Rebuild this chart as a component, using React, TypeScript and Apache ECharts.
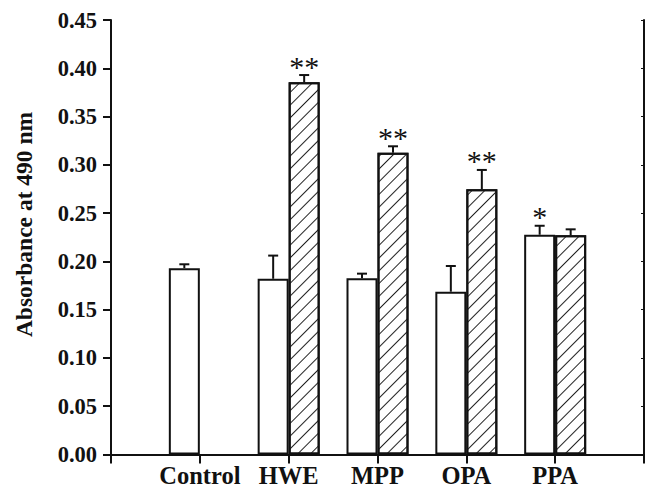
import React, { useEffect, useRef } from "react";
import * as echarts from "echarts";

const categories = ["", "Control", "HWE", "MPP", "OPA", "PPA", ""];
const whiteValues = [null, 0.193, 0.182, 0.1825, 0.1686, 0.2276, null];
const whiteErrors = [null, 0.004, 0.024, 0.0048, 0.0266, 0.0093, null];
const whiteStars = ["", "", "", "", "", "*", ""];
const hatchValues = [null, null, 0.3855, 0.3126, 0.2747, 0.227, null];
const hatchErrors = [null, null, 0.0075, 0.0066, 0.02, 0.0062, null];
const hatchStars = ["", "", "**", "**", "**", "", ""];
const yTicks = { min: 0, max: 0.45, interval: 0.05 };

const FONT = "'Liberation Serif', 'Times New Roman', serif";
const BAR_W = 31;

export default function App() {
  const ref = useRef<HTMLDivElement>(null);
  useEffect(() => {
    if (!ref.current) return;
    const chart = echarts.init(ref.current, null, { renderer: "svg" });

    const errData: any[] = [];
    whiteValues.forEach((v, i) => {
      if (v != null) errData.push([i, 0, v, whiteErrors[i], whiteStars[i]]);
    });
    hatchValues.forEach((v, i) => {
      if (v != null) errData.push([i, 1, v, hatchErrors[i], hatchStars[i]]);
    });

    const option: any = {
      animation: false,
      backgroundColor: "#fff",
      grid: { left: 111, top: 20, right: 5, bottom: 34.5, containLabel: false },
      xAxis: [
        {
          type: "category",
          data: categories,
          boundaryGap: false,
          axisLine: { lineStyle: { color: "#111", width: 2 } },
          axisTick: { show: true, interval: 0, length: 9, lineStyle: { color: "#111", width: 2 } },
          axisLabel: {
            interval: 0,
            margin: 8,
            color: "#111",
            fontFamily: FONT,
            fontWeight: "bold",
            fontSize: 24.5,
          },
          splitLine: { show: false },
        },
        {
          type: "category",
          data: categories,
          position: "top",
          boundaryGap: false,
          axisLine: { lineStyle: { color: "#111", width: 2 } },
          axisTick: { show: true, inside: true, interval: 0, length: 3, lineStyle: { color: "#111", width: 1 } },
          axisLabel: { show: false },
          splitLine: { show: false },
        },
      ],
      yAxis: [
        {
          type: "value",
          min: yTicks.min,
          max: yTicks.max,
          interval: yTicks.interval,
          axisLine: { show: true, lineStyle: { color: "#111", width: 2 } },
          axisTick: { show: true, length: 8, lineStyle: { color: "#111", width: 2 } },
          axisLabel: {
            margin: 14,
            color: "#111",
            fontFamily: FONT,
            fontWeight: "bold",
            fontSize: 22.5,
            formatter: (v: number) => v.toFixed(2),
          },
          splitLine: { show: false },
        },
        {
          type: "value",
          position: "right",
          min: yTicks.min,
          max: yTicks.max,
          interval: yTicks.interval,
          axisLine: { show: true, lineStyle: { color: "#111", width: 2 } },
          axisTick: { show: true, inside: true, length: 3, lineStyle: { color: "#111", width: 1 } },
          axisLabel: { show: false },
          splitLine: { show: false },
        },
      ],
      graphic: [
        {
          type: "text",
          x: 23.5,
          y: 224.5,
          rotation: Math.PI / 2,
          style: {
            text: "Absorbance at 490 nm",
            fontFamily: FONT,
            fontWeight: "bold",
            fontSize: 23.5,
            fill: "#111",
            align: "center",
            verticalAlign: "middle",
          },
        },
      ],
      series: [
        {
          type: "bar",
          data: whiteValues,
          barWidth: BAR_W,
          barGap: "0%",
          itemStyle: { color: "#fff", borderColor: "#111", borderWidth: 2 },
          z: 2,
        },
        {
          type: "bar",
          data: hatchValues,
          barWidth: BAR_W,
          barGap: "0%",
          itemStyle: {
            color: "#fff",
            borderColor: "#111",
            borderWidth: 2,
            decal: {
              symbol: "rect",
              symbolSize: 1,
              color: "#222",
              backgroundColor: "#fff",
              dashArrayX: [[1, 0]],
              dashArrayY: [1, 8],
              rotation: -Math.PI / 4,
            },
          },
          z: 2,
        },
        {
          type: "custom",
          data: errData,
          z: 3,
          renderItem: (params: any, api: any) => {
            const cat = api.value(0);
            const s = api.value(1);
            const v = api.value(2);
            const e = api.value(3);
            const stars = errData[params.dataIndex][4];
            const base = api.coord([cat, v]);
            const topP = api.coord([cat, v + e]);
            const cx = base[0] + (s - 0.5) * BAR_W;
            const children: any[] = [
              {
                type: "line",
                shape: { x1: cx, y1: base[1], x2: cx, y2: topP[1] },
                style: { stroke: "#111", lineWidth: 2 },
              },
              {
                type: "line",
                shape: { x1: cx - 5, y1: topP[1], x2: cx + 5, y2: topP[1] },
                style: { stroke: "#111", lineWidth: 2 },
              },
            ];
            if (stars) {
              children.push({
                type: "text",
                x: cx,
                y: topP[1] + 6,
                style: {
                  text: stars,
                  fontFamily: FONT,
                  fontSize: 30,
                  fill: "#111",
                  align: "center",
                  verticalAlign: "bottom",
                },
              });
            }
            return { type: "group", children };
          },
        },
      ],
    };
    chart.setOption(option);
    return () => chart.dispose();
  }, []);
  return (
    <div
      ref={ref}
      style={{ position: "absolute", left: 0, top: 0, width: 649, height: 489 }}
    />
  );
}
